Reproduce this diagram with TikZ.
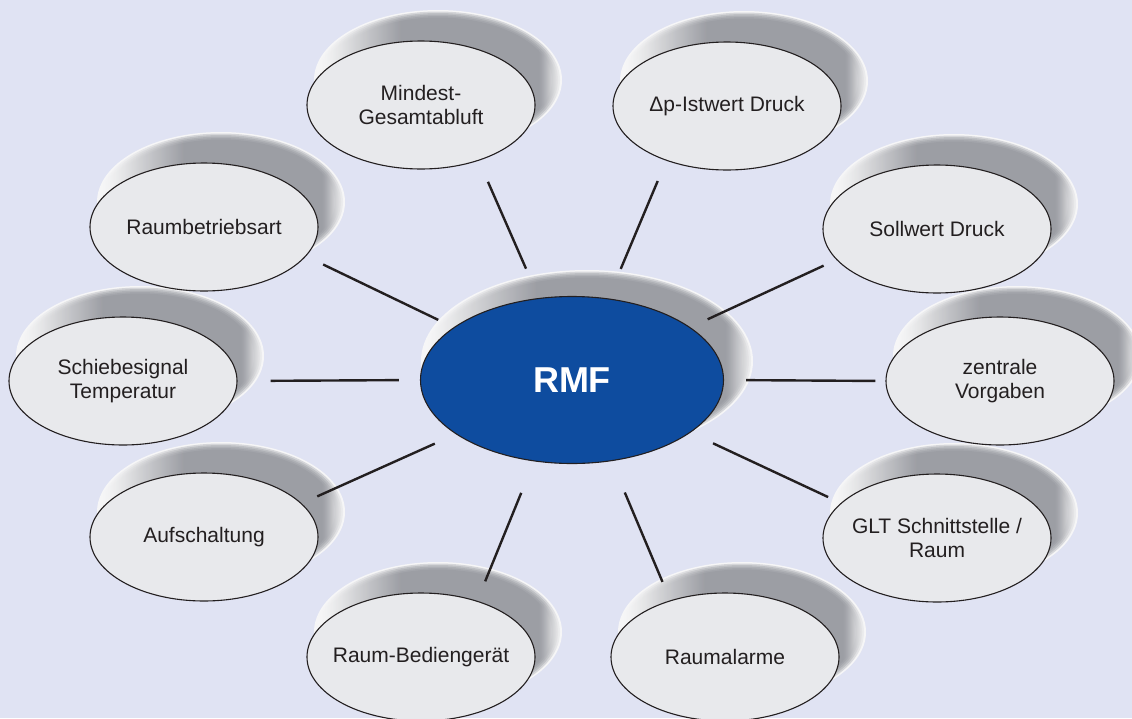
\documentclass[tikz,border=0pt]{standalone}
\usepackage{fontspec}
\setmainfont{Liberation Sans}
\usepackage{xcolor}
\usetikzlibrary{shapes.geometric}

\definecolor{bgblue}{HTML}{E0E3F3}
\definecolor{bubblefill}{HTML}{E8E9EC}
\definecolor{rmfblue}{HTML}{0E4C9F}
\definecolor{inkdark}{HTML}{231F20}
\definecolor{shadowgray}{HTML}{8C8E95}

\pgfdeclarehorizontalshading{bubbleshadow}{100bp}{
    color(0bp)=(white!95!shadowgray); color(25bp)=(white!95!shadowgray);
    color(29bp)=(white!75!shadowgray); color(42bp)=(shadowgray);
    color(72bp)=(shadowgray); color(75bp)=(white!70!shadowgray);
    color(100bp)=(white!70!shadowgray)}

\tikzset{
    bubble/.style={
        ellipse, draw=inkdark, line width=1.1pt, fill=bubblefill,
        minimum width=228pt, minimum height=128pt,
        inner xsep=-20pt, inner ysep=0pt, align=center,
        text=inkdark, font=\fontsize{21}{23.5}\selectfont
    },
    hub/.style={
        ellipse, draw=inkdark, line width=1.1pt, fill=rmfblue,
        minimum width=303pt, minimum height=167pt, inner sep=0pt,
        text=white, font=\bfseries\fontsize{36}{40}\selectfont
    },
    shadow rim/.style={fill=white!92!shadowgray},
    bubble shadow/.style={shading=bubbleshadow, opacity=0.3},
    link/.style={draw=inkdark, line width=2.4pt},
}

\newcommand{\softshadow}[3]{%
    \fill[shadow rim] (#1) ellipse [x radius=#2, y radius=#3];
    \foreach \k in {1,...,5}
        \shade[bubble shadow] (#1) ellipse [x radius=#2-2*\k, y radius=#3-1.5*\k];
}

\begin{document}
\begin{tikzpicture}[x=1pt,y=-1pt]
    \fill[bgblue] (0,0) rectangle (1132,718);
    \useasboundingbox (0,0) rectangle (1132,718);

    \softshadow{587,361}{166}{91}
    \softshadow{438,80}{124}{70}
    \softshadow{744,81}{124}{70}
    \softshadow{221,202}{124}{70}
    \softshadow{954,204}{124}{70}
    \softshadow{140,356}{124}{70}
    \softshadow{1017,356}{124}{70}
    \softshadow{221,512}{124}{70}
    \softshadow{954,513}{124}{70}
    \softshadow{438,632}{124}{70}
    \softshadow{742,632}{124}{70}

    \node[hub] (rmf) at (572,380) {RMF};
    \node[bubble] (mindest) at (421,105) {Mindest-\\Gesamtabluft};
    \node[bubble] (istwert) at (727,106) {Δp-Istwert Druck};
    \node[bubble] (betrieb) at (204,227) {Raumbetriebsart};
    \node[bubble] (sollwert) at (937,229) {Sollwert Druck};
    \node[bubble] (schiebe) at (123,381) {Schiebesignal\\Temperatur};
    \node[bubble] (zentrale) at (1000,381) {zentrale\\Vorgaben};
    \node[bubble] (aufschalt) at (204,537) {Aufschaltung};
    \node[bubble] (glt) at (937,538) {GLT Schnittstelle /\\Raum};
    \node[bubble] (bedien) at (421,657) {Raum-Bediengerät};
    \node[bubble] (alarme) at (725,657) {Raumalarme};

    \draw[link, shorten <=32pt, shorten >=23pt] (rmf.112) -- (mindest.-44);
    \draw[link, shorten <=32pt, shorten >=22pt] (rmf.66) -- (istwert.-138);
    \draw[link, shorten <=17pt, shorten >=19pt] (rmf.156) -- (betrieb.-16);
    \draw[link, shorten <=19pt, shorten >=14pt] (rmf.24) -- (sollwert.-163);
    \draw[link, shorten <=21pt, shorten >=33pt] (rmf.180) -- (schiebe.0);
    \draw[link, shorten <=22pt, shorten >=10pt] (rmf.0) -- (zentrale.180);
    \draw[link, shorten <=23pt, shorten >=17pt] (rmf.-155) -- (aufschalt.19);
    \draw[link, shorten <=25pt, shorten >=14pt] (rmf.-24) -- (glt.160);
    \draw[link, shorten <=34pt, shorten >=21pt] (rmf.-115) -- (bedien.45);
    \draw[link, shorten <=34pt, shorten >=20pt] (rmf.-64) -- (alarme.134);
\end{tikzpicture}
\end{document}
